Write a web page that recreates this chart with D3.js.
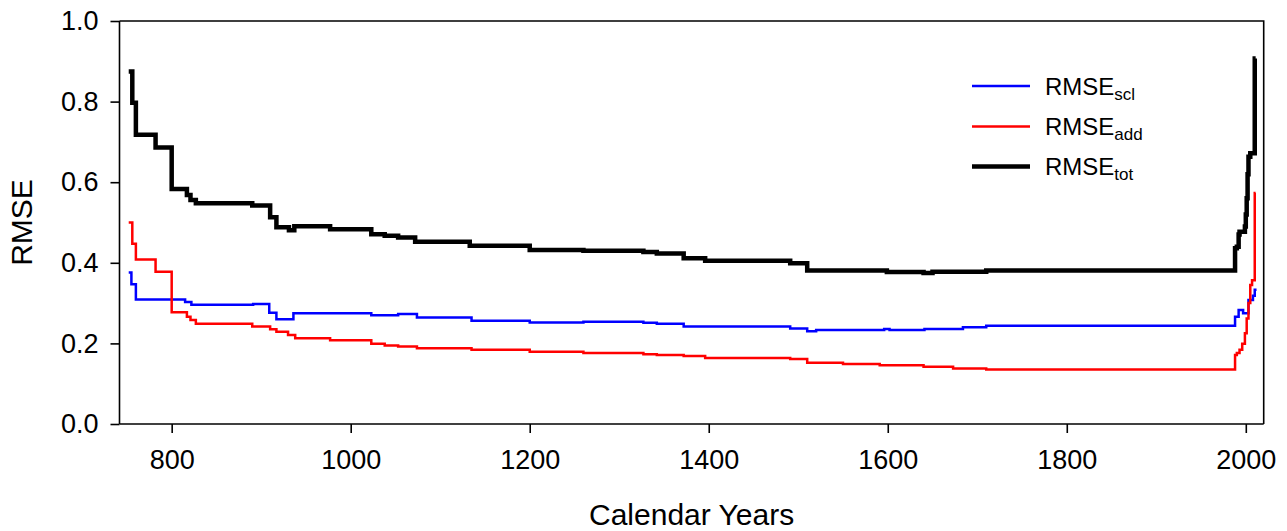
<!DOCTYPE html>
<html>
<head>
<meta charset="utf-8">
<script src="https://cdn.jsdelivr.net/npm/d3@7"></script>
<style>
  html, body { margin: 0; padding: 0; background: #fff; }
  svg { display: block; }
  text { font-family: "Liberation Sans", Arial, sans-serif; fill: #000; }
</style>
</head>
<body>
<svg id="chart" width="1287" height="531"></svg>
<script>
// ---- data (step changes at given years) ----
const yearsTot = [752, 756, 760, 782, 800, 817, 821, 827, 890, 910, 917, 931, 937, 977, 1023, 1038, 1053, 1072, 1133, 1200, 1260, 1327, 1342, 1372, 1396, 1491, 1510, 1599, 1640, 1650, 1684, 1710, 1988, 1990, 1992, 1993, 1999, 2000, 2001, 2002, 2003, 2005, 2010, 2011];
const tot      = [0.875, 0.797, 0.718, 0.686, 0.583, 0.568, 0.556, 0.548, 0.542, 0.513, 0.488, 0.481, 0.491, 0.483, 0.471, 0.467, 0.463, 0.452, 0.442, 0.432, 0.430, 0.427, 0.423, 0.411, 0.405, 0.399, 0.381, 0.377, 0.375, 0.378, 0.378, 0.381, 0.436, 0.440, 0.470, 0.477, 0.490, 0.520, 0.560, 0.620, 0.663, 0.672, 0.907, 0.907];

const yearsScl = [752, 755, 760, 815, 822, 891, 909, 917, 936, 1023, 1053, 1074, 1135, 1200, 1260, 1327, 1342, 1372, 1491, 1510, 1520, 1596, 1602, 1641, 1684, 1710, 1988, 1992, 1997, 2003, 2008, 2010, 2012];
const scl      = [0.376, 0.347, 0.309, 0.303, 0.296, 0.298, 0.276, 0.260, 0.275, 0.270, 0.273, 0.264, 0.256, 0.252, 0.254, 0.251, 0.249, 0.242, 0.237, 0.230, 0.233, 0.236, 0.233, 0.236, 0.240, 0.244, 0.266, 0.283, 0.275, 0.308, 0.318, 0.333, 0.333];

const yearsAdd = [752, 756, 760, 782, 800, 817, 821, 827, 890, 910, 917, 930, 938, 977, 1023, 1038, 1053, 1074, 1135, 1200, 1260, 1327, 1342, 1372, 1396, 1491, 1510, 1550, 1591, 1640, 1673, 1710, 1988, 1990, 1993, 1996, 1999, 2001, 2003, 2005, 2007, 2010, 2011];
const add      = [0.500, 0.447, 0.408, 0.378, 0.277, 0.266, 0.258, 0.249, 0.242, 0.235, 0.229, 0.221, 0.213, 0.208, 0.199, 0.195, 0.192, 0.188, 0.184, 0.179, 0.176, 0.173, 0.171, 0.169, 0.164, 0.161, 0.152, 0.149, 0.146, 0.142, 0.138, 0.135, 0.171, 0.176, 0.184, 0.199, 0.225, 0.262, 0.300, 0.345, 0.357, 0.573, 0.573];

const xTicks = [800, 1000, 1200, 1400, 1600, 1800, 2000];
const yTicks = [0.0, 0.2, 0.4, 0.6, 0.8, 1.0];

const seriesNames = ["scl", "add", "tot"];
const seriesColors = ["#0000ff", "#ff0000", "#000000"];
const seriesWidths = [2.5, 2.5, 4.5];

// ---- layout ----
const svg = d3.select("#chart");
const pL = 119.5, pR = 1263.7, pT = 21, pB = 424;

const x = d3.scaleLinear().domain([741.7, 2020]).range([pL, pR]);
const y = d3.scaleLinear().domain([0, 1]).range([pB, pT]);

// frame (top and right)
svg.append("path")
  .attr("d", `M${pL},${pT}H${pR}V${pB}`)
  .attr("fill", "none").attr("stroke", "#000").attr("stroke-width", 1.6);

// axes
const xAxis = d3.axisBottom(x).tickValues(xTicks).tickFormat(d3.format("d"))
  .tickSize(9).tickPadding(17);
const yAxis = d3.axisLeft(y).tickValues(yTicks).tickFormat(d3.format(".1f"))
  .tickSize(9).tickPadding(12);

const gx = svg.append("g").attr("transform", `translate(0,${pB})`).call(xAxis);
const gy = svg.append("g").attr("transform", `translate(${pL},0)`).call(yAxis);
[gx, gy].forEach(g => {
  g.select(".domain").attr("stroke-width", 1.6);
  g.selectAll(".tick line").attr("stroke-width", 1.6);
  g.selectAll(".tick text").attr("font-size", 27)
    .attr("font-family", "'Liberation Sans', Arial, sans-serif").attr("fill", "#000");
});
gx.select(".domain").attr("d", `M${pL},0H${pR}`);
gy.select(".domain").attr("d", `M0,${pB}V${pT}`);

// axis titles
svg.append("text").attr("x", (pL + pR) / 2).attr("y", 525)
  .attr("text-anchor", "middle").attr("font-size", 30).text("Calendar Years");
svg.append("text")
  .attr("transform", `translate(32,${(pT + pB) / 2}) rotate(-90)`)
  .attr("text-anchor", "middle").attr("font-size", 30).text("RMSE");

// lines
const line = d3.line().x(d => x(d[0])).y(d => y(d[1])).curve(d3.curveStepAfter);
const data = [
  d3.zip(yearsScl, scl),
  d3.zip(yearsAdd, add),
  d3.zip(yearsTot, tot)
];
data.forEach((d, i) => {
  svg.append("path").datum(d)
    .attr("d", line)
    .attr("fill", "none")
    .attr("stroke", seriesColors[i])
    .attr("stroke-width", seriesWidths[i])
    .attr("stroke-linejoin", "miter")
    .attr("stroke-linecap", "butt");
});

// legend
const legY = [86, 126.5, 166.5];
seriesNames.forEach((name, i) => {
  svg.append("line")
    .attr("x1", 972).attr("x2", 1030).attr("y1", legY[i]).attr("y2", legY[i])
    .attr("stroke", seriesColors[i]).attr("stroke-width", seriesWidths[i]);
  const t = svg.append("text").attr("x", 1045).attr("y", legY[i] + 8.5).attr("font-size", 24);
  t.append("tspan").text("RMSE");
  t.append("tspan").attr("font-size", 17).attr("dy", 5).text(name);
});
</script>
</body>
</html>
